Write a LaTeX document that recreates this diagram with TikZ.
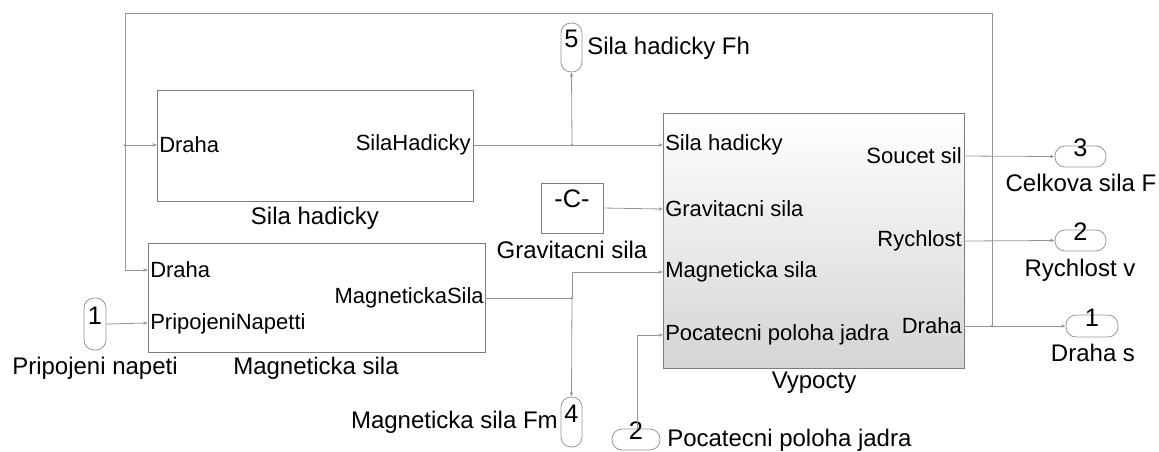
\documentclass[tikz,border=0pt]{standalone}
\usepackage{fontspec}
\setmainfont{Liberation Sans}
\usetikzlibrary{arrows.meta,fit}
\definecolor{wirec}{RGB}{150,150,150}
\definecolor{bordc}{RGB}{125,125,125}
\definecolor{termc}{RGB}{150,150,150}
\definecolor{shadec}{RGB}{212,212,212}
\begin{document}
\begin{tikzpicture}[x=0.75pt,y=-0.75pt,
  blk/.style={draw=bordc, line width=0.7pt, inner sep=0pt},
  term/.style={draw=termc, line width=0.6pt, inner sep=0pt, rounded corners=7.5pt, font=\fontsize{19}{20}\selectfont},
  plbl/.style={inner sep=0pt, font=\fontsize{16.5}{18}\selectfont},
  lbl/.style={inner sep=0pt, font=\fontsize{18}{20}\selectfont},
  wire/.style={draw=wirec, line width=0.6pt},
  arr/.style={wire, -{Stealth[length=3.5pt,width=2.5pt]}},
  jdot/.style={circle, fill=wirec, inner sep=0pt, minimum size=2.2pt}]
\useasboundingbox (0,0) rectangle (1159,451);

% blocks
\node[blk, fit={(157,90) (473,201)}] (sh) {};
\node[blk, fit={(148,243) (485,352)}] (ms) {};
\node[blk, fit={(541,183) (603,233)}, font=\fontsize{19}{20}\selectfont] (gc) {-C-};
\node[blk, fit={(663,113) (964,368)}, top color=white, middle color=white, bottom color=shadec] (vy) {};

% block labels
\node[lbl] at (315,218) {Sila hadicky};
\node[lbl] at (316,368) {Magneticka sila};
\node[lbl] at (572,250) {Gravitacni sila};
\node[lbl] at (814,383) {Vypocty};

% port labels
\node[plbl, anchor=west] at (159,145) {Draha};
\node[plbl, anchor=east] at (471,145) {SilaHadicky};
\node[plbl, anchor=west] at (150,270) {Draha};
\node[plbl, anchor=west] at (150,324) {PripojeniNapetti};
\node[plbl, anchor=east] at (484,298) {MagnetickaSila};
\node[plbl, anchor=west] at (665,145) {Sila hadicky};
\node[plbl, anchor=west] at (665,209) {Gravitacni sila};
\node[plbl, anchor=west] at (665,272) {Magneticka sila};
\node[plbl, anchor=west] at (665,335) {Pocatecni poloha jadra};
\node[plbl, anchor=east] at (962,156) {Soucet sil};
\node[plbl, anchor=east] at (962,241) {Rychlost};
\node[plbl, anchor=east] at (962,326) {Draha};

% terminals
\node[term, fit={(84,298) (106,350)}] (in1) {1};
\node[lbl] at (95,368) {Pripojeni napeti};
\node[term, fit={(612,429) (660,450)}] (in2) {2};
\node[lbl, anchor=west] at (667,440) {Pocatecni poloha jadra};
\node[term, fit={(561,23) (582,72)}] (out5) {5};
\node[lbl, anchor=west] at (587,48) {Sila hadicky Fh};
\node[term, fit={(561,397) (582,447)}] (out4) {4};
\node[lbl, anchor=east] at (558,422) {Magneticka sila Fm};
\node[term, fit={(1055,146) (1106,167)}] (out3) {3};
\node[lbl] at (1081,183) {Celkova sila F};
\node[term, fit={(1055,230) (1106,251)}] (out2) {2};
\node[lbl] at (1080,270) {Rychlost v};
\node[term, fit={(1066,315) (1118,337)}] (out1) {1};
\node[lbl] at (1093,353) {Draha s};

% port coordinates
\coordinate (sh-in) at (157,145);
\coordinate (sh-out) at (473,145);
\coordinate (ms-in1) at (148,270);
\coordinate (ms-in2) at (148,323);
\coordinate (ms-out) at (485,298);
\coordinate (vy-in1) at (663,145);
\coordinate (vy-in2) at (663,209);
\coordinate (vy-in3) at (663,272);
\coordinate (vy-in4) at (663,335);
\coordinate (vy-out1) at (964,156);
\coordinate (vy-out2) at (964,241);
\coordinate (vy-out3) at (964,326);
\coordinate (j1) at (572,145);
\coordinate (j2) at (572,298);
\coordinate (j3) at (992,326);
\coordinate (j4) at (125,145);

% wires
\draw[wire] (sh-out) -- (j1);
\draw[arr] (j1) -- (vy-in1);
\draw[arr] (j1) -- (out5.south);
\draw[arr] (gc.east) -- (vy-in2);
\draw[wire] (ms-out) -- (j2);
\draw[arr] (j2) |- (vy-in3);
\draw[arr] (j2) -- (out4.north);
\draw[arr] (in2.north -| 637,0) |- (vy-in4);
\draw[arr] (in1.east) -- (ms-in2);
\draw[arr] (vy-out1) -- (out3.west);
\draw[arr] (vy-out2) -- (out2.west);
\draw[wire] (vy-out3) -- (j3);
\draw[arr] (j3) -- (out1.west);
\draw[wire] (j3) -- (992,13) -- (125,13) -- (j4);
\draw[arr] (j4) |- (ms-in1);
\draw[arr] (j4) -- (sh-in);

% junction dots
\foreach \j in {j1,j2,j3,j4} \node[jdot] at (\j) {};
\end{tikzpicture}
\end{document}
